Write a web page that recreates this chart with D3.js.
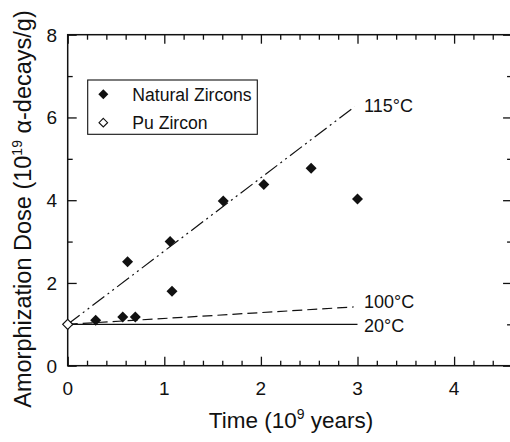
<!DOCTYPE html>
<html><head><meta charset="utf-8">
<script src="https://cdn.jsdelivr.net/npm/d3@7"></script>
<style>body{margin:0;background:#fff}svg{display:block}text{font-family:"Liberation Sans",Arial,Helvetica,sans-serif;fill:#111}</style>
</head><body><svg id="c" width="510" height="442"></svg>
<script>
// Data
const naturalTime = [0.29, 0.57, 0.70, 0.62, 1.06, 1.08, 1.61, 2.03, 2.52, 3.00];
const naturalDose = [1.10, 1.18, 1.18, 2.51, 3.00, 1.80, 3.98, 4.38, 4.77, 4.03];
const puTime = [0];
const puDose = [1.0];
const lineNames = ["115°C", "100°C", "20°C"];
const lineStart = [[0, 1.0], [0, 1.0], [0, 1.0]];
const lineEnd = [[2.97, 6.26], [2.96, 1.42], [3.0, 1.0]];
const xTicks = [0, 1, 2, 3, 4];
const yTicks = [0, 2, 4, 6, 8];

const svg = d3.select("#c");
const L = 67.7, T = 34.7, B = 365.7;
const x = d3.scaleLinear().domain([0, 4.6]).range([L, L + 4.6 * 96.6]);
const y = d3.scaleLinear().domain([0, 8]).range([B, T]);
const R = x(4.6);

const diamond = (r) => `M0,${-r}L${r},0L0,${r}L${-r},0Z`;

// axes with inward ticks
const xMinor = d3.range(0, 4.61, 0.2).filter(v => Math.abs(v - Math.round(v)) > 1e-6);
const yMinor = [1, 3, 5, 7];
function addAxis(axis, tr) { const g = svg.append("g").attr("transform", tr).call(axis); g.select(".domain").remove(); g.selectAll("line").attr("stroke", "#111").attr("stroke-width", 1.3); return g; }
addAxis(d3.axisBottom(x).tickValues(xTicks).tickSize(-9).tickFormat(""), `translate(0,${B})`);
addAxis(d3.axisBottom(x).tickValues(xMinor).tickSize(-5).tickFormat(""), `translate(0,${B})`);
addAxis(d3.axisTop(x).tickValues(xTicks).tickSize(-9).tickFormat(""), `translate(0,${T})`);
addAxis(d3.axisTop(x).tickValues(xMinor).tickSize(-5).tickFormat(""), `translate(0,${T})`);
addAxis(d3.axisLeft(y).tickValues(yTicks).tickSize(-9).tickFormat(""), `translate(${L},0)`);
addAxis(d3.axisLeft(y).tickValues(yMinor).tickSize(-5).tickFormat(""), `translate(${L},0)`);
addAxis(d3.axisRight(y).tickValues(yTicks).tickSize(-9).tickFormat(""), `translate(${R},0)`);
addAxis(d3.axisRight(y).tickValues(yMinor).tickSize(-5).tickFormat(""), `translate(${R},0)`);
svg.append("rect").attr("x", L).attr("y", T).attr("width", R - L).attr("height", B - T)
  .attr("fill", "none").attr("stroke", "#111").attr("stroke-width", 1.5);

// tick labels
svg.selectAll(".xl").data(xTicks).enter().append("text").attr("x", d => x(d)).attr("y", 394.5)
  .attr("text-anchor", "middle").attr("font-size", 19).text(d => d);
svg.selectAll(".yl").data(yTicks).enter().append("text").attr("x", 57).attr("y", d => y(d)).attr("dy", "0.36em")
  .attr("text-anchor", "end").attr("font-size", 19).text(d => d);

// titles
const xt = svg.append("text").attr("x", 291).attr("y", 428).attr("text-anchor", "middle").attr("font-size", 22.5);
xt.append("tspan").text("Time (10");
xt.append("tspan").attr("font-size", 14).attr("dy", -9).text("9");
xt.append("tspan").attr("dy", 9).text(" years)");
const yt = svg.append("text").attr("transform", "translate(31,209) rotate(-90)").attr("text-anchor", "middle").attr("font-size", 23.5);
yt.append("tspan").text("Amorphization Dose (10");
yt.append("tspan").attr("font-size", 14).attr("dy", -9).text("19");
yt.append("tspan").attr("dy", 9).text(" α-decays/g)");

// model lines
const dashes = ["15,4,2,4,2,4", "10,5", null];
lineNames.forEach((n, i) => {
  const ln = svg.append("line").attr("x1", x(lineStart[i][0])).attr("y1", y(lineStart[i][1]))
    .attr("x2", x(lineEnd[i][0])).attr("y2", y(lineEnd[i][1])).attr("stroke", "#111").attr("stroke-width", 1.2);
  if (dashes[i]) ln.attr("stroke-dasharray", dashes[i]);
});
const labelY = [6.28, 1.55, 0.97];
lineNames.forEach((n, i) => {
  svg.append("text").attr("x", 364).attr("y", y(labelY[i])).attr("dy", "0.36em").attr("font-size", 18).text(n);
});

// points
svg.selectAll(".nz").data(naturalTime).enter().append("path")
  .attr("transform", (d, i) => `translate(${x(d)},${y(naturalDose[i])})`).attr("d", diamond(5.5)).attr("fill", "#111");
svg.selectAll(".pu").data(puTime).enter().append("path")
  .attr("transform", (d, i) => `translate(${x(d)},${y(puDose[i])})`).attr("d", diamond(5)).attr("fill", "#fff").attr("stroke", "#111").attr("stroke-width", 1.2);

// legend
svg.append("rect").attr("x", 87.7).attr("y", 80).attr("width", 169.6).attr("height", 54.3).attr("fill", "#fff").attr("stroke", "#111").attr("stroke-width", 1.1);
svg.append("path").attr("transform", "translate(103.3,94.3)").attr("d", diamond(5)).attr("fill", "#111");
svg.append("path").attr("transform", "translate(103.3,122.7)").attr("d", diamond(4.3)).attr("fill", "#fff").attr("stroke", "#111").attr("stroke-width", 1.1);
svg.append("text").attr("x", 132.3).attr("y", 94.3).attr("dy", "0.36em").attr("font-size", 17.6).text("Natural Zircons");
svg.append("text").attr("x", 132.3).attr("y", 122.7).attr("dy", "0.36em").attr("font-size", 17.6).text("Pu Zircon");
</script></body></html>
